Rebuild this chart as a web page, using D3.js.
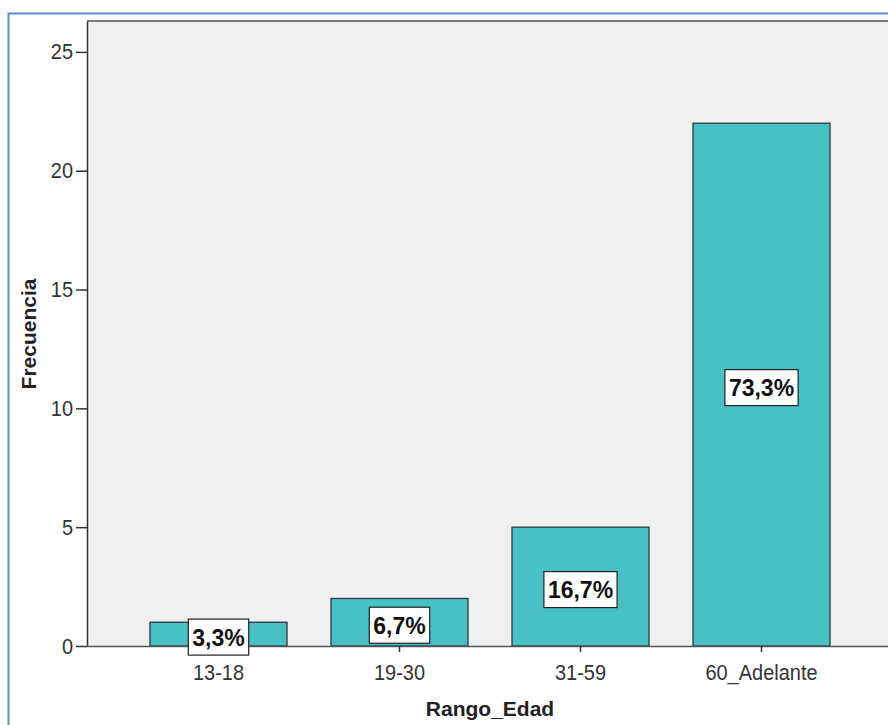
<!DOCTYPE html>
<html>
<head>
<meta charset="utf-8">
<script src="https://cdn.jsdelivr.net/npm/d3@7"></script>
<style>
  html, body { margin: 0; padding: 0; background: #ffffff; }
  svg { display: block; font-family: "Liberation Sans", Arial, sans-serif; }
</style>
</head>
<body>
<svg id="chart" width="888" height="725"></svg>
<script>
// Age-range frequency data
const categories = ["13-18", "19-30", "31-59", "60_Adelante"];
const frequencies = [1, 2, 5, 22];
const percentLabels = ["3,3%", "6,7%", "16,7%", "73,3%"];
const yTicks = [0, 5, 10, 15, 20, 25];

const svg = d3.select("#chart");

// Plot region
const plot = { left: 87, top: 21, right: 893, bottom: 646 };

const x = d3.scaleBand()
  .domain(categories)
  .range([plot.left, plot.right])
  .paddingInner(0.243)
  .paddingOuter(0.348);

const y = d3.scaleLinear()
  .domain([0, 26.3])
  .range([plot.bottom, plot.top]);

// Outer frame
svg.append("rect")
  .attr("x", 8.5).attr("y", 13.5)
  .attr("width", 900).attr("height", 800)
  .attr("fill", "none")
  .attr("stroke", "#5a8bd3")
  .attr("stroke-width", 2);

// Plot background
svg.append("rect")
  .attr("x", plot.left).attr("y", plot.top)
  .attr("width", plot.right - plot.left + 20)
  .attr("height", plot.bottom - plot.top)
  .attr("fill", "#f0f0f0");

// Top edge of plot area
svg.append("line")
  .attr("x1", plot.left).attr("x2", 900)
  .attr("y1", plot.top).attr("y2", plot.top)
  .attr("stroke", "#7d7d7d")
  .attr("stroke-width", 2);

// Bars
svg.append("g")
  .selectAll("rect")
  .data(categories)
  .join("rect")
  .attr("x", d => x(d))
  .attr("y", (d, i) => y(frequencies[i]))
  .attr("width", x.bandwidth())
  .attr("height", (d, i) => y(0) - y(frequencies[i]))
  .attr("fill", "#48c1c4")
  .attr("stroke", "#2b3a3a")
  .attr("stroke-width", 1.3);

// Y axis
const yAxis = svg.append("g")
  .attr("transform", `translate(${plot.left},0)`)
  .call(d3.axisLeft(y).tickValues(yTicks).tickSize(11).tickSizeOuter(0)
    .tickPadding(3).tickFormat(d3.format("d")));
yAxis.select(".domain").attr("stroke", "#333").attr("stroke-width", 1.5);
yAxis.selectAll(".tick line").attr("stroke", "#333").attr("stroke-width", 1.5);
yAxis.selectAll(".tick text")
  .attr("fill", "#333")
  .attr("transform", "scale(1,1.1)")
  .style("font-size", "20px")
  .style("font-family", "'Liberation Sans', Arial, sans-serif");

// X axis
const xAxis = svg.append("g")
  .attr("transform", `translate(0,${plot.bottom})`)
  .call(d3.axisBottom(x).tickSize(6).tickPadding(12).tickSizeOuter(0));
xAxis.select(".domain")
  .attr("d", `M${plot.left},0.5H900`)
  .attr("stroke", "#555").attr("stroke-width", 1.5);
xAxis.selectAll(".tick line").attr("stroke", "#333").attr("stroke-width", 1.5);
xAxis.selectAll(".tick text")
  .attr("fill", "#333")
  .attr("transform", "scale(1,1.06)")
  .style("font-size", "20px")
  .style("font-family", "'Liberation Sans', Arial, sans-serif");

// Percentage labels in boxes
const labels = svg.append("g")
  .selectAll("g")
  .data(categories)
  .join("g")
  .attr("transform", (d, i) => {
    const cx = x(d) + x.bandwidth() / 2;
    const cy = (y(0) + y(frequencies[i])) / 2 + 3;
    return `translate(${cx},${cy})`;
  });

labels.append("text")
  .attr("text-anchor", "middle")
  .attr("dy", "0.36em")
  .attr("transform", "scale(1,1.06)")
  .style("font-size", "23px")
  .style("font-weight", "bold")
  .attr("fill", "#111")
  .text((d, i) => percentLabels[i]);

labels.insert("rect", "text")
  .each(function() {
    const t = d3.select(this.parentNode).select("text").node().getBBox();
    d3.select(this)
      .attr("x", t.x - 4)
      .attr("y", -18)
      .attr("width", t.width + 8)
      .attr("height", 36);
  })
  .attr("fill", "#ffffff")
  .attr("stroke", "#222")
  .attr("stroke-width", 1.2);

// Axis titles
svg.append("text")
  .attr("x", (x(categories[0]) + x(categories[3]) + x.bandwidth()) / 2)
  .attr("y", 716)
  .attr("text-anchor", "middle")
  .style("font-size", "21px")
  .style("font-weight", "bold")
  .attr("fill", "#222")
  .text("Rango_Edad");

svg.append("text")
  .attr("transform", "translate(36,334) rotate(-90)")
  .attr("text-anchor", "middle")
  .style("font-size", "21px")
  .style("font-weight", "bold")
  .attr("fill", "#222")
  .text("Frecuencia");
</script>
</body>
</html>
